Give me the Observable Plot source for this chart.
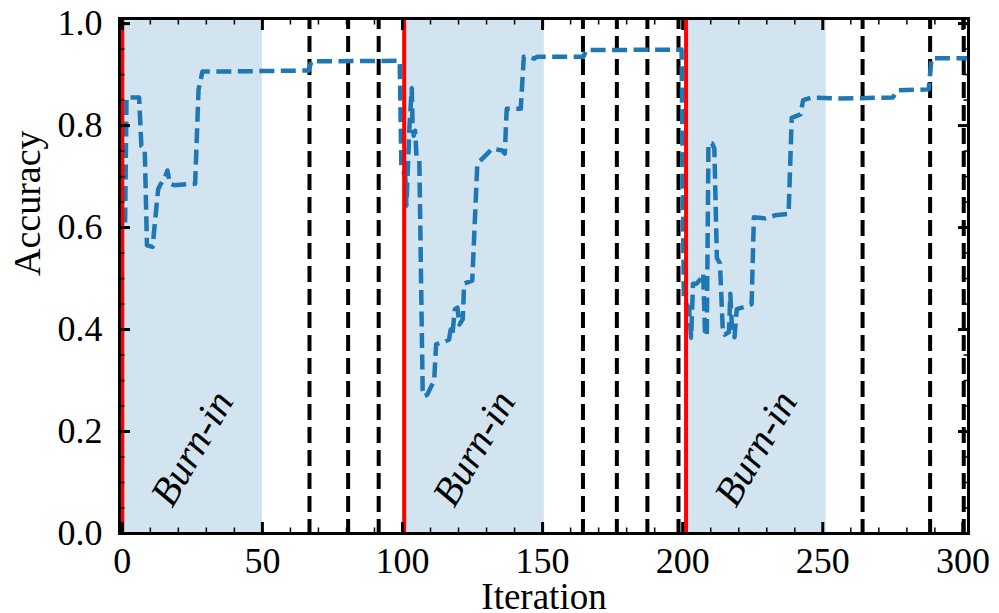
<!DOCTYPE html>
<html><head><meta charset="utf-8">
<script src="https://cdn.jsdelivr.net/npm/d3@7"></script>
<script src="https://cdn.jsdelivr.net/npm/@observablehq/plot@0.6"></script>
<style>body{margin:0;background:#fff;overflow:hidden}</style>
</head><body><div id="chart"></div>
<script>
const iteration = [1.0,1.5,6.0,6.8,8.0,8.8,10.8,12.8,13.5,15.3,16.1,17.0,18.5,26.0,27.2,28.6,35.0,50.0,66.5,67.5,99.0,
  99.6,101.0,101.4,102.5,103.3,103.6,104.0,104.5,105.0,106.0,107.2,107.7,108.8,111.3,112.0,113.0,116.6,117.2,117.8,118.7,119.6,120.3,121.5,122.0,124.9,126.7,130.3,132.0,135.6,136.5,137.2,142.2,143.3,146.0,147.0,148.0,164.6,165.5,199.6,
  200.4,202.3,203.0,203.7,205.0,206.5,207.3,208.0,208.6,209.2,210.5,211.3,212.2,213.3,214.3,215.0,216.5,217.0,217.6,218.5,219.3,222.3,224.6,225.4,229.5,233.0,237.8,238.9,242.0,243.0,246.0,255.0,275.0,276.6,287.8,288.8,302.0];
const accuracy = [0.61,0.855,0.855,0.76,0.755,0.565,0.562,0.675,0.683,0.700,0.712,0.686,0.683,0.686,0.870,0.906,0.906,0.907,0.908,0.926,0.927,
  0.72,0.70,0.643,0.80,0.873,0.80,0.78,0.79,0.74,0.735,0.28,0.269,0.272,0.30,0.371,0.373,0.38,0.40,0.39,0.44,0.443,0.41,0.42,0.49,0.496,0.725,0.745,0.755,0.751,0.745,0.833,0.833,0.935,0.934,0.931,0.935,0.935,0.948,0.949,
  0.46,0.44,0.384,0.49,0.49,0.50,0.51,0.387,0.39,0.765,0.765,0.755,0.54,0.53,0.40,0.39,0.395,0.47,0.40,0.385,0.44,0.445,0.45,0.62,0.618,0.624,0.627,0.815,0.822,0.85,0.855,0.853,0.855,0.869,0.871,0.932,0.932];
const restartIters = [0, 100.6, 201.2];
const checkpointIters = [66.8, 80.6, 91.5, 164.4, 176.5, 187.4, 198.5, 264.2, 288.3, 300.3];
const burnInLength = 50;
const burnInLabel = "Burn-in";
const xTicks = [0, 50, 100, 150, 200, 250, 300];
const xMinorTicks = d3.range(0, 301, 10);
const yTicks = [0, 0.2, 0.4, 0.6, 0.8, 1.0];
const yMinorTicks = d3.range(0, 21).map(i => i * 0.05);
const xLabel = "Iteration";
const yLabel = "Accuracy";

const points = iteration.map((x, i) => ({x, y: accuracy[i]}));
const blue = "#1f77b4";
const noText = () => "";

const chart = Plot.plot({
  width: 999, height: 613,
  marginLeft: 119, marginRight: 31, marginTop: 18, marginBottom: 80,
  x: {domain: [-1, 302]},
  y: {domain: [0, 1.01]},
  style: {fontFamily: "'Liberation Serif', serif", fontSize: "36px", background: "white", color: "black"},
  marks: [
    Plot.rect(restartIters, {x1: d => d, x2: d => d + burnInLength, fill: blue, fillOpacity: 0.2}),
    Plot.ruleX(checkpointIters, {stroke: "black", strokeWidth: 4, strokeDasharray: "16,7", strokeDashoffset: 5}),
    Plot.line(points, {x: "x", y: "y", stroke: blue, strokeWidth: 4.5, strokeDasharray: "15,6.5", strokeLinecap: "butt", strokeLinejoin: "round"}),
    Plot.ruleX(restartIters, {stroke: "red", strokeWidth: 4}),
    Plot.text(restartIters, {x: d => d + 25, y: () => 0.167, text: () => burnInLabel, rotate: -60, fontStyle: "italic", fontSize: 40}),
    // tick labels
    Plot.axisX(xTicks, {anchor: "bottom", tickSize: 0, tickPadding: 14, fontSize: 36, label: null}),
    Plot.axisY(yTicks, {anchor: "left", tickSize: 0, tickPadding: 17, fontSize: 36, tickFormat: d3.format(".1f"), label: null}),
    // major ticks (inward)
    Plot.axisX(xTicks, {anchor: "bottom", tickSize: -11, strokeWidth: 3, tickFormat: noText, label: null}),
    Plot.axisX(xTicks, {anchor: "top", tickSize: -11, strokeWidth: 3, tickFormat: noText, label: null}),
    Plot.axisY(yTicks, {anchor: "left", tickSize: -11, strokeWidth: 3, tickFormat: noText, label: null}),
    Plot.axisY(yTicks, {anchor: "right", tickSize: -11, strokeWidth: 3, tickFormat: noText, label: null}),
    // minor ticks
    Plot.axisX(xMinorTicks, {anchor: "bottom", tickSize: -5.5, strokeWidth: 1.5, tickFormat: noText, label: null}),
    Plot.axisX(xMinorTicks, {anchor: "top", tickSize: -5.5, strokeWidth: 1.5, tickFormat: noText, label: null}),
    Plot.axisY(yMinorTicks, {anchor: "left", tickSize: -5.5, strokeWidth: 1.5, tickFormat: noText, label: null}),
    Plot.axisY(yMinorTicks, {anchor: "right", tickSize: -5.5, strokeWidth: 1.5, tickFormat: noText, label: null}),
    Plot.frame({stroke: "black", strokeWidth: 3}),
    Plot.text([xLabel], {text: d => d, frameAnchor: "bottom", dy: 64, fontSize: 37, lineAnchor: "middle"}),
    Plot.text([yLabel], {text: d => d, frameAnchor: "left", dx: -92, rotate: -90, fontSize: 38, lineAnchor: "middle"})
  ]
});
document.getElementById("chart").appendChild(chart);
</script>
</body></html>
